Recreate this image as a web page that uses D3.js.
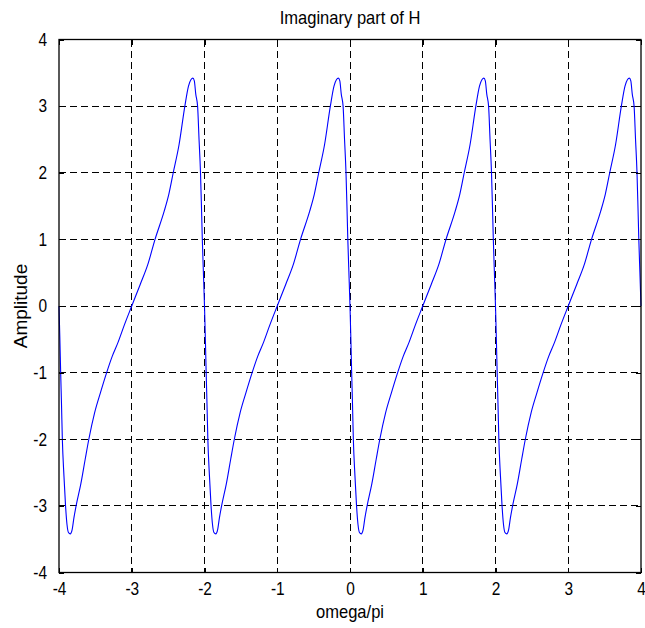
<!DOCTYPE html>
<html>
<head>
<meta charset="utf-8">
<script src="https://cdn.jsdelivr.net/npm/d3@7"></script>
<style>
  html, body { margin: 0; padding: 0; background: #fff; }
  svg { display: block; }
  text { font-family: "Liberation Sans", Arial, Helvetica, sans-serif; fill: #000; }
</style>
</head>
<body>
<svg id="chart" width="645" height="628"></svg>
<script>
// ---- data ----
const titleText = "Imaginary part of H";
const xLabelText = "omega/pi";
const yLabelText = "Amplitude";
const xTicks = [-4, -3, -2, -1, 0, 1, 2, 3, 4];
const yTicks = [-4, -3, -2, -1, 0, 1, 2, 3, 4];
const xDomain = [-4, 4];
const yDomain = [-4, 4];

const omega = [
  -4.000, -3.988, -3.977, -3.965, -3.954, -3.932, -3.910, -3.890, -3.870, -3.845, -3.820, -3.795, -3.765, -3.700,
  -3.640, -3.590, -3.510, -3.430, -3.345, -3.270, -3.190, -3.100, -3.000, -2.885, -2.780, -2.680, -2.555, -2.490,
  -2.430, -2.350, -2.270, -2.220, -2.185, -2.160, -2.140, -2.120, -2.095, -2.075, -2.055, -2.042, -2.030, -2.015,
  -2.000, -1.988, -1.977, -1.965, -1.954, -1.932, -1.910, -1.890, -1.870, -1.845, -1.820, -1.795, -1.765, -1.700,
  -1.640, -1.590, -1.510, -1.430, -1.345, -1.270, -1.190, -1.100, -1.000, -0.885, -0.780, -0.680, -0.555, -0.490,
  -0.430, -0.350, -0.270, -0.220, -0.185, -0.160, -0.140, -0.120, -0.095, -0.075, -0.055, -0.042, -0.030, -0.015,
   0.000,  0.012,  0.023,  0.035,  0.046,  0.068,  0.090,  0.110,  0.130,  0.155,  0.180,  0.205,  0.235,  0.300,
   0.360,  0.410,  0.490,  0.570,  0.655,  0.730,  0.810,  0.900,  1.000,  1.115,  1.220,  1.320,  1.445,  1.510,
   1.570,  1.650,  1.730,  1.780,  1.815,  1.840,  1.860,  1.880,  1.905,  1.925,  1.945,  1.958,  1.970,  1.985,
   2.000,  2.012,  2.023,  2.035,  2.046,  2.068,  2.090,  2.110,  2.130,  2.155,  2.180,  2.205,  2.235,  2.300,
   2.360,  2.410,  2.490,  2.570,  2.655,  2.730,  2.810,  2.900,  3.000,  3.115,  3.220,  3.320,  3.445,  3.510,
   3.570,  3.650,  3.730,  3.780,  3.815,  3.840,  3.860,  3.880,  3.905,  3.925,  3.945,  3.958,  3.970,  3.985,
   4.000
];
const amplitude = [
   0.00, -0.50, -1.00, -1.50, -2.00, -2.55, -3.00, -3.28, -3.40, -3.42, -3.36, -3.18, -3.00, -2.67,
  -2.30, -2.00, -1.60, -1.30, -1.00, -0.76, -0.55, -0.28,  0.00,  0.32,  0.62,  1.00,  1.42,  1.68,
   2.00,  2.42,  3.00,  3.30,  3.40,  3.42,  3.38,  3.18,  3.00,  2.50,  2.00,  1.50,  1.00,  0.50,
   0.00, -0.50, -1.00, -1.50, -2.00, -2.55, -3.00, -3.28, -3.40, -3.42, -3.36, -3.18, -3.00, -2.67,
  -2.30, -2.00, -1.60, -1.30, -1.00, -0.76, -0.55, -0.28,  0.00,  0.32,  0.62,  1.00,  1.42,  1.68,
   2.00,  2.42,  3.00,  3.30,  3.40,  3.42,  3.38,  3.18,  3.00,  2.50,  2.00,  1.50,  1.00,  0.50,
   0.00, -0.50, -1.00, -1.50, -2.00, -2.55, -3.00, -3.28, -3.40, -3.42, -3.36, -3.18, -3.00, -2.67,
  -2.30, -2.00, -1.60, -1.30, -1.00, -0.76, -0.55, -0.28,  0.00,  0.32,  0.62,  1.00,  1.42,  1.68,
   2.00,  2.42,  3.00,  3.30,  3.40,  3.42,  3.38,  3.18,  3.00,  2.50,  2.00,  1.50,  1.00,  0.50,
   0.00, -0.50, -1.00, -1.50, -2.00, -2.55, -3.00, -3.28, -3.40, -3.42, -3.36, -3.18, -3.00, -2.67,
  -2.30, -2.00, -1.60, -1.30, -1.00, -0.76, -0.55, -0.28,  0.00,  0.32,  0.62,  1.00,  1.42,  1.68,
   2.00,  2.42,  3.00,  3.30,  3.40,  3.42,  3.38,  3.18,  3.00,  2.50,  2.00,  1.50,  1.00,  0.50,
   0.00
];

// ---- layout ----
const plot = { left: 59, right: 641, top: 39.5, bottom: 572.5 };
const svg = d3.select("#chart");

const x = d3.scaleLinear().domain(xDomain).range([plot.left, plot.right]);
const y = d3.scaleLinear().domain(yDomain).range([plot.bottom, plot.top]);

// grid
const grid = svg.append("g").attr("class", "grid")
  .attr("stroke", "#000").attr("stroke-width", 1).attr("stroke-dasharray", "7,4")
  .attr("shape-rendering", "crispEdges");
grid.selectAll("line.v").data(xTicks.slice(1, -1)).join("line").attr("class", "v")
  .attr("x1", d => x(d)).attr("x2", d => x(d))
  .attr("y1", plot.top).attr("y2", plot.bottom);
grid.selectAll("line.h").data(yTicks.slice(1, -1)).join("line").attr("class", "h")
  .attr("x1", plot.left).attr("x2", plot.right)
  .attr("y1", d => y(d)).attr("y2", d => y(d));

// curve
const pts = omega.map((w, i) => [w, amplitude[i]]);
const line = d3.line().x(d => x(d[0])).y(d => y(d[1])).curve(d3.curveMonotoneX);
svg.append("path").datum(pts)
  .attr("d", line)
  .attr("fill", "none").attr("stroke", "#0000ff").attr("stroke-width", 1.1);

// axes (ticks inward, MATLAB box style)
const tickLen = 5;
const fmt = d => String(d);   // plain hyphen-minus like the reference
const axB = d3.axisBottom(x).tickValues(xTicks).tickSize(-tickLen).tickPadding(10).tickFormat(fmt);
const axT = d3.axisTop(x).tickValues(xTicks).tickSize(-tickLen).tickFormat("");
const axL = d3.axisLeft(y).tickValues(yTicks).tickSize(-tickLen).tickPadding(7).tickFormat(fmt);
const axR = d3.axisRight(y).tickValues(yTicks).tickSize(-tickLen).tickFormat("");

function style(g) {
  g.select(".domain").remove();
  g.selectAll(".tick line").attr("stroke", "#000").attr("shape-rendering", "crispEdges");
  g.selectAll(".tick text").style("font-size", "18px").attr("fill", "#000")
    .style("font-family", "'Liberation Sans', Arial, sans-serif");
}
const gB = svg.append("g").attr("transform", `translate(0,${plot.bottom})`).call(axB).call(style);
gB.selectAll(".tick text").attr("dy", "0.71em").attr("transform", "scale(0.86,1)");
svg.append("g").attr("transform", `translate(0,${plot.top})`).call(axT).call(style);
const gL = svg.append("g").attr("transform", `translate(${plot.left},0)`).call(axL).call(style);
gL.selectAll(".tick text").attr("transform", "translate(-6,0) scale(0.86,1)");
svg.append("g").attr("transform", `translate(${plot.right},0)`).call(axR).call(style);

// box
svg.append("rect")
  .attr("x", plot.left).attr("y", plot.top)
  .attr("width", plot.right - plot.left).attr("height", plot.bottom - plot.top)
  .attr("fill", "none").attr("stroke", "#000").attr("stroke-width", 1.3);

// labels
svg.append("text").attr("transform", `translate(${(plot.left + plot.right) / 2},24) scale(0.92,1)`)
  .attr("text-anchor", "middle").style("font-size", "18px").text(titleText);
svg.append("text").attr("transform", `translate(${(plot.left + plot.right) / 2},618) scale(0.92,1)`)
  .attr("text-anchor", "middle").style("font-size", "18px").text(xLabelText);
svg.append("text").attr("transform", `translate(27,${(plot.top + plot.bottom) / 2}) rotate(-90)`)
  .attr("text-anchor", "middle").style("font-size", "19px").text(yLabelText);
</script>
</body>
</html>
